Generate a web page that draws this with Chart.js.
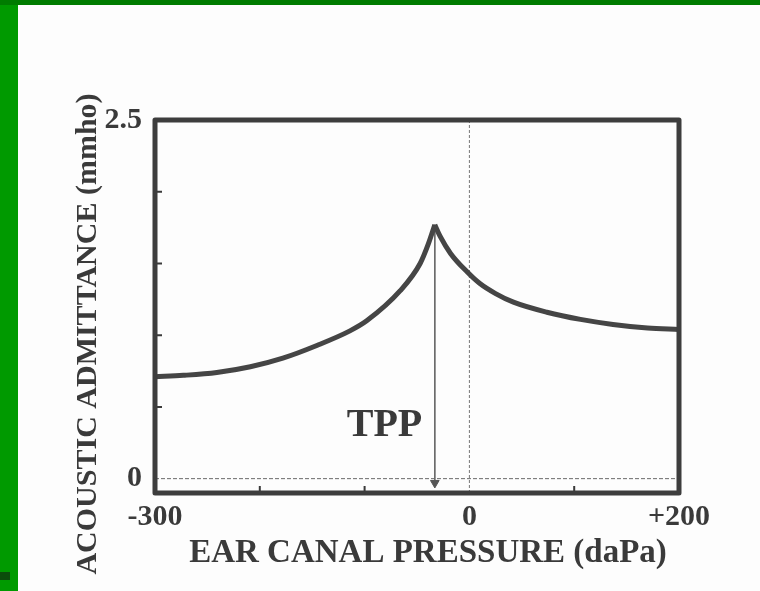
<!DOCTYPE html>
<html>
<head>
<meta charset="utf-8">
<title>Tympanogram</title>
<script src="https://cdn.jsdelivr.net/npm/chart.js@4.4.1/dist/chart.umd.min.js"></script>
<style>
  html, body { margin: 0; padding: 0; }
  body { width: 760px; height: 591px; position: relative; overflow: hidden; background: #009a00; }
  #topbar { position: absolute; left: 0; top: 0; width: 760px; height: 5px; background: #007c00; }
  #sheet { position: absolute; left: 18px; top: 5px; width: 742px; height: 586px; background: #fdfdfd; }
  #bullet { position: absolute; left: 0; top: 572px; width: 10px; height: 8px; background: #0b4d0b; }
</style>
</head>
<body>
<div id="topbar"></div>
<div id="sheet"><canvas id="tympanogram" width="742" height="586"></canvas></div>
<div id="bullet"></div>
<script>
// Tympanogram: admittance vs ear canal pressure, peak at TPP

// Curve on the negative side of the peak (daPa, mmho)
const leftPressure = [-300, -273, -241, -209, -178, -145, -114, -98, -66, -47, -39, -33];
const leftAdmittance = [0.71, 0.72, 0.74, 0.78, 0.84, 0.93, 1.03, 1.10, 1.31, 1.50, 1.64, 1.77];

// Curve on the positive side of the peak
const rightPressure = [-33, -28, -18, -2, 10, 25, 42, 74, 106, 137, 170, 200];
const rightAdmittance = [1.77, 1.69, 1.57, 1.44, 1.36, 1.29, 1.23, 1.16, 1.11, 1.075, 1.05, 1.04];

// Tympanometric peak pressure
const tppPressure = -33;
const tppAdmittance = 1.77;

// Axis ticks and which of them carry a label
const xTicks = [-300, -200, -100, 0, 100, 200];
const xTickLabels = { '-300': '-300', '0': '0', '200': '+200' };
const yTicks = [0, 0.5, 1, 1.5, 2, 2.5];
const yTickLabels = { '0': '0', '2.5': '2.5' };

const xTitle = 'EAR CANAL PRESSURE (daPa)';
const yTitle = 'ACOUSTIC ADMITTANCE (mmho)';
const tppLabel = 'TPP';

const INK = '#3a3a3a';
const SERIF = '"Liberation Serif", "DejaVu Serif", serif';

Chart.defaults.font.family = SERIF;
Chart.defaults.color = INK;

function toPoints(xs, ys) {
    return xs.map((x, i) => ({ x: x, y: ys[i] }));
}

// Box frame, inward tick marks, axis titles and the TPP label
const framePlugin = {
    id: 'frame',
    afterDraw(chart) {
        const { ctx, chartArea, scales } = chart;
        const xs = scales.x, ys = scales.y;
        ctx.save();

        // small inward ticks
        ctx.strokeStyle = INK;
        ctx.lineWidth = 2;
        ctx.beginPath();
        [0.5, 1, 1.5, 2].forEach(v => {
            const py = ys.getPixelForValue(v);
            ctx.moveTo(chartArea.left, py);
            ctx.lineTo(chartArea.left + 7, py);
        });
        [-200, -100, 100].forEach(v => {
            const px = xs.getPixelForValue(v);
            ctx.moveTo(px, chartArea.bottom);
            ctx.lineTo(px, chartArea.bottom - 7);
        });
        ctx.stroke();

        // plot frame
        ctx.strokeStyle = '#3d3d3d';
        ctx.lineWidth = 5;
        ctx.lineJoin = 'round';
        ctx.strokeRect(chartArea.left, chartArea.top,
            chartArea.right - chartArea.left, chartArea.bottom - chartArea.top);

        // axis titles
        ctx.fillStyle = INK;
        ctx.font = 'bold 33px ' + SERIF;
        ctx.textAlign = 'center';
        ctx.textBaseline = 'middle';
        ctx.fillText(xTitle, chartArea.left + 273, chartArea.bottom + 60);

        ctx.save();
        ctx.translate(chartArea.left - 67, chartArea.top + 214);
        ctx.rotate(-Math.PI / 2);
        ctx.font = 'bold 30px ' + SERIF;
        ctx.fillText(yTitle, 0, 0);
        ctx.restore();

        // TPP label
        ctx.font = 'bold 40px ' + SERIF;
        ctx.fillText(tppLabel, xs.getPixelForValue(-81), ys.getPixelForValue(0.37));
        ctx.restore();
    }
};

const ctx = document.getElementById('tympanogram').getContext('2d');
new Chart(ctx, {
    type: 'line',
    data: {
        datasets: [
            {
                data: toPoints(leftPressure, leftAdmittance),
                borderColor: '#454545',
                borderWidth: 5,
                pointRadius: 0,
                cubicInterpolationMode: 'monotone'
            },
            {
                data: toPoints(rightPressure, rightAdmittance),
                borderColor: '#454545',
                borderWidth: 5,
                pointRadius: 0,
                cubicInterpolationMode: 'monotone'
            },
            {
                // zero admittance reference
                data: [{ x: -300, y: 0 }, { x: 200, y: 0 }],
                borderColor: '#6a6a6a',
                borderWidth: 1,
                borderDash: [4, 2],
                pointRadius: 0
            },
            {
                // zero pressure reference
                data: [{ x: 0, y: -0.1 }, { x: 0, y: 2.5 }],
                borderColor: '#777777',
                borderWidth: 1,
                borderDash: [3, 2],
                pointRadius: 0
            },
            {
                // arrow from the peak down to TPP
                data: [{ x: tppPressure, y: tppAdmittance }, { x: tppPressure, y: -0.03 }],
                borderColor: '#666666',
                borderWidth: 1,
                pointRadius: [0, 5],
                pointStyle: 'triangle',
                rotation: 180,
                pointBackgroundColor: '#555555',
                pointBorderColor: '#555555',
                pointBorderWidth: 1
            }
        ]
    },
    options: {
        responsive: false,
        animation: false,
        layout: { padding: { top: 115, right: 81, left: 0, bottom: 0 } },
        plugins: {
            legend: { display: false },
            tooltip: { enabled: false }
        },
        scales: {
            x: {
                type: 'linear',
                min: -300,
                max: 200,
                afterBuildTicks: scale => { scale.ticks = xTicks.map(v => ({ value: v })); },
                afterFit: scale => { scale.height = 98; },
                grid: { display: false, drawTicks: false },
                border: { display: false },
                ticks: {
                    autoSkip: false,
                    maxRotation: 0,
                    padding: 6,
                    color: INK,
                    font: { size: 30, weight: 'bold' },
                    callback: v => xTickLabels[String(v)] || ''
                }
            },
            y: {
                type: 'linear',
                min: -0.1,
                max: 2.5,
                afterBuildTicks: scale => { scale.ticks = yTicks.map(v => ({ value: v })); },
                afterFit: scale => { scale.width = 137; },
                grid: { display: false, drawTicks: false },
                border: { display: false },
                ticks: {
                    autoSkip: false,
                    padding: 13,
                    color: INK,
                    font: { size: 30, weight: 'bold' },
                    callback: v => yTickLabels[String(v)] || ''
                }
            }
        }
    },
    plugins: [framePlugin]
});
</script>
</body>
</html>
